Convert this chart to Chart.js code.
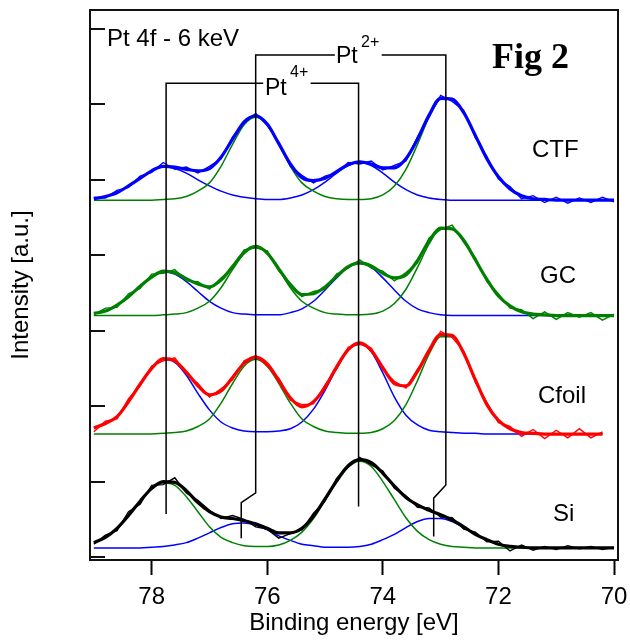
<!DOCTYPE html>
<html>
<head>
<meta charset="utf-8">
<script src="https://cdn.jsdelivr.net/npm/chart.js@4.4.1/dist/chart.umd.min.js"></script>
<style>
  html, body { margin: 0; padding: 0; background: #fff; }
  #chartXps { display: block; }
</style>
</head>
<body>
<canvas id="chartXps" width="630" height="643"></canvas>
<script>
// binding energy grid (eV)
const energies = [79.0, 78.8, 78.6, 78.4, 78.2, 78.0, 77.8, 77.6, 77.4, 77.2,
  77.0, 76.8, 76.6, 76.4, 76.2, 76.0, 75.8, 75.6, 75.4, 75.2,
  75.0, 74.8, 74.6, 74.4, 74.2, 74.0, 73.8, 73.6, 73.4, 73.2,
  73.0, 72.8, 72.6, 72.4, 72.2, 72.0, 71.8, 71.6, 71.4, 71.2,
  71.0, 70.8, 70.6, 70.4, 70.2, 70.0];

// CTF
const ctfRaw = [4.77, 4.76, 4.86, 4.90, 5.05, 5.10, 5.23, 5.14, 5.17, 5.09,
  5.18, 5.28, 5.57, 5.75, 5.88, 5.72, 5.50, 5.18, 5.06, 4.96,
  5.05, 5.09, 5.23, 5.21, 5.25, 5.13, 5.19, 5.25, 5.57, 5.83,
  6.12, 6.04, 5.92, 5.56, 5.31, 5.01, 4.91, 4.75, 4.79, 4.70,
  4.77, 4.69, 4.76, 4.70, 4.77, 4.71];
const ctfFit = [4.75, 4.78, 4.83, 4.92, 5.02, 5.12, 5.18, 5.17, 5.14, 5.12,
  5.15, 5.30, 5.54, 5.77, 5.85, 5.74, 5.48, 5.21, 5.03, 4.99,
  5.02, 5.11, 5.20, 5.24, 5.21, 5.16, 5.16, 5.28, 5.54, 5.86,
  6.08, 6.07, 5.89, 5.59, 5.28, 5.04, 4.88, 4.79, 4.75, 4.74,
  4.73, 4.73, 4.73, 4.73, 4.73, 4.73];
const ctfBlue = [4.75, 4.78, 4.83, 4.92, 5.02, 5.12, 5.17, 5.15, 5.09, 5.00,
  4.92, 4.85, 4.80, 4.77, 4.75, 4.74, 4.74, 4.76, 4.80, 4.87,
  4.97, 5.09, 5.19, 5.23, 5.19, 5.09, 4.97, 4.87, 4.80, 4.76,
  4.74, 4.73, 4.73, 4.73, 4.73, 4.73, 4.73, 4.73, 4.73, 4.73,
  4.73, 4.73, 4.73, 4.73, 4.73, 4.73];
const ctfGreen = [4.73, 4.73, 4.73, 4.73, 4.73, 4.73, 4.74, 4.75, 4.78, 4.85,
  4.96, 5.18, 5.47, 5.73, 5.83, 5.73, 5.47, 5.18, 4.96, 4.85,
  4.78, 4.75, 4.74, 4.74, 4.75, 4.80, 4.92, 5.14, 5.47, 5.83,
  6.07, 6.07, 5.89, 5.59, 5.28, 5.04, 4.88, 4.79, 4.75, 4.74,
  4.73, 4.73, 4.73, 4.73, 4.73, 4.73];

// GC
const gcRaw = [3.21, 3.30, 3.31, 3.49, 3.56, 3.75, 3.76, 3.81, 3.66, 3.65,
  3.55, 3.70, 3.83, 4.07, 4.10, 4.06, 3.79, 3.63, 3.45, 3.52,
  3.55, 3.75, 3.83, 3.94, 3.83, 3.79, 3.66, 3.77, 3.90, 4.23,
  4.34, 4.40, 4.17, 3.97, 3.65, 3.49, 3.30, 3.28, 3.16, 3.25,
  3.15, 3.24, 3.18, 3.24, 3.14, 3.22];
const gcFit = [3.23, 3.26, 3.34, 3.45, 3.59, 3.71, 3.79, 3.77, 3.69, 3.62,
  3.58, 3.67, 3.85, 4.04, 4.12, 4.03, 3.82, 3.61, 3.48, 3.49,
  3.58, 3.72, 3.85, 3.90, 3.86, 3.76, 3.70, 3.74, 3.93, 4.19,
  4.36, 4.35, 4.20, 3.94, 3.68, 3.46, 3.33, 3.25, 3.22, 3.21,
  3.20, 3.20, 3.20, 3.20, 3.20, 3.20];
const gcBlue = [3.23, 3.26, 3.34, 3.45, 3.59, 3.71, 3.78, 3.75, 3.65, 3.52,
  3.39, 3.30, 3.24, 3.22, 3.21, 3.21, 3.21, 3.24, 3.29, 3.39,
  3.54, 3.70, 3.84, 3.89, 3.84, 3.70, 3.54, 3.39, 3.29, 3.24,
  3.21, 3.20, 3.20, 3.20, 3.20, 3.20, 3.20, 3.20, 3.20, 3.20,
  3.20, 3.20, 3.20, 3.20, 3.20, 3.20];
const gcGreen = [3.20, 3.20, 3.20, 3.20, 3.20, 3.20, 3.21, 3.22, 3.24, 3.30,
  3.39, 3.57, 3.81, 4.02, 4.11, 4.02, 3.81, 3.57, 3.39, 3.30,
  3.24, 3.22, 3.21, 3.21, 3.22, 3.26, 3.36, 3.55, 3.84, 4.15,
  4.35, 4.35, 4.20, 3.94, 3.68, 3.46, 3.33, 3.25, 3.22, 3.21,
  3.20, 3.20, 3.20, 3.20, 3.20, 3.20];

// Cfoil
const cfRaw = [1.66, 1.80, 1.83, 2.10, 2.27, 2.53, 2.60, 2.64, 2.43, 2.30,
  2.12, 2.23, 2.35, 2.60, 2.67, 2.53, 2.37, 2.08, 2.02, 2.03,
  2.28, 2.49, 2.78, 2.82, 2.77, 2.48, 2.33, 2.24, 2.49, 2.71,
  2.99, 2.91, 2.73, 2.32, 2.05, 1.78, 1.73, 1.60, 1.69, 1.57,
  1.68, 1.58, 1.70, 1.58, 1.66, null];
const cfFit = [1.71, 1.77, 1.86, 2.06, 2.29, 2.50, 2.63, 2.60, 2.45, 2.27,
  2.15, 2.20, 2.38, 2.57, 2.65, 2.56, 2.34, 2.11, 1.99, 2.06,
  2.25, 2.52, 2.75, 2.84, 2.74, 2.51, 2.30, 2.27, 2.46, 2.74,
  2.95, 2.94, 2.70, 2.35, 2.02, 1.81, 1.70, 1.65, 1.64, 1.63,
  1.63, 1.63, 1.63, 1.63, 1.63, null];
const cfBlue = [1.71, 1.77, 1.86, 2.06, 2.29, 2.50, 2.62, 2.58, 2.41, 2.17,
  1.95, 1.79, 1.71, 1.67, 1.66, 1.66, 1.67, 1.70, 1.79, 1.96,
  2.21, 2.50, 2.74, 2.83, 2.72, 2.44, 2.12, 1.88, 1.75, 1.68,
  1.66, 1.65, 1.64, 1.64, 1.63, 1.63, 1.63, 1.63, 1.63, 1.63,
  1.63, 1.63, 1.63, 1.63, 1.63, null];
const cfGreen = [1.63, 1.63, 1.63, 1.63, 1.63, 1.63, 1.64, 1.65, 1.67, 1.73,
  1.83, 2.04, 2.30, 2.53, 2.62, 2.53, 2.30, 2.04, 1.83, 1.73,
  1.67, 1.65, 1.64, 1.64, 1.65, 1.70, 1.81, 2.02, 2.34, 2.69,
  2.92, 2.92, 2.69, 2.34, 2.02, 1.81, 1.70, 1.65, 1.64, 1.63,
  1.63, 1.63, 1.63, 1.63, 1.63, null];

// Si
const siRaw = [0.17, 0.29, 0.35, 0.60, 0.70, 0.95, 0.96, 1.05, 0.85, 0.75,
  0.62, 0.51, 0.55, 0.50, 0.40, 0.37, 0.25, 0.31, 0.36, 0.58,
  0.74, 1.04, 1.19, 1.32, 1.22, 1.14, 0.91, 0.81, 0.66, 0.65,
  0.53, 0.52, 0.37, 0.33, 0.20, 0.21, 0.08, 0.16, 0.09, 0.14,
  0.10, 0.15, 0.11, 0.14, 0.10, 0.13];
const siFit = [0.19, 0.26, 0.38, 0.55, 0.74, 0.91, 1.00, 0.99, 0.88, 0.72,
  0.60, 0.53, 0.51, 0.48, 0.44, 0.38, 0.32, 0.32, 0.38, 0.54,
  0.77, 1.01, 1.21, 1.29, 1.25, 1.11, 0.94, 0.79, 0.69, 0.62,
  0.56, 0.49, 0.40, 0.30, 0.23, 0.17, 0.14, 0.13, 0.12, 0.12,
  0.12, 0.12, 0.12, 0.12, 0.12, 0.12];
const siGreen = [0.19, 0.26, 0.38, 0.55, 0.74, 0.90, 0.98, 0.95, 0.80, 0.60,
  0.40, 0.26, 0.19, 0.15, 0.14, 0.14, 0.16, 0.22, 0.33, 0.51,
  0.75, 0.99, 1.19, 1.27, 1.20, 1.00, 0.76, 0.52, 0.34, 0.23,
  0.17, 0.14, 0.13, 0.12, 0.12, 0.12, 0.12, 0.12, 0.12, 0.12,
  0.12, 0.12, 0.12, 0.12, 0.12, 0.12];
const siBlue = [0.12, 0.12, 0.12, 0.12, 0.12, 0.13, 0.14, 0.16, 0.19, 0.25,
  0.32, 0.39, 0.44, 0.45, 0.42, 0.36, 0.28, 0.22, 0.17, 0.15,
  0.13, 0.13, 0.13, 0.14, 0.17, 0.23, 0.30, 0.39, 0.47, 0.51,
  0.51, 0.47, 0.39, 0.30, 0.23, 0.17, 0.14, 0.13, 0.12, 0.12,
  0.12, 0.12, 0.12, 0.12, 0.12, 0.12];

// peak marker brackets (energy, intensity)
const pt4LeftX = [77.75, 77.75, 76.07];
const pt4LeftY = [0.57, 6.28, 6.28];
const pt4RightX = [75.25, 74.42, 74.42];
const pt4RightY = [6.28, 6.28, 0.67];
const pt2LeftX = [76.45, 76.45, 76.2, 76.2, 74.83];
const pt2LeftY = [0.25, 0.72, 0.85, 6.655, 6.655];
const pt2RightX = [74.02, 72.91, 72.91, 73.12, 73.12];
const pt2RightY = [6.655, 6.655, 0.955, 0.78, 0.27];

const BLUE = "rgb(0, 0, 255)";
const GREEN = "rgb(0, 128, 0)";
const RED = "rgb(255, 0, 0)";
const BLACK = "rgb(0, 0, 0)";

function toPoints(xs, ys) {
  return xs.map((x, i) => ({ x: x, y: ys[i] })).filter(p => p.y !== null && p.y !== undefined);
}

function curve(values, color, width, order, smooth) {
  return {
    data: toPoints(energies, values),
    borderColor: color,
    borderWidth: width,
    pointRadius: 0,
    fill: false,
    order: order,
    tension: 0,
    cubicInterpolationMode: smooth ? "monotone" : "default",
  };
}

function bracket(xs, ys) {
  return {
    data: toPoints(xs, ys),
    borderColor: BLACK,
    borderWidth: 1.5,
    pointRadius: 0,
    fill: false,
    order: 1,
    tension: 0,
  };
}

const spectra = [
  { raw: ctfRaw, fit: ctfFit, blue: ctfBlue, green: ctfGreen, color: BLUE },
  { raw: gcRaw, fit: gcFit, blue: gcBlue, green: gcGreen, color: GREEN },
  { raw: cfRaw, fit: cfFit, blue: cfBlue, green: cfGreen, color: RED },
  { raw: siRaw, fit: siFit, blue: siBlue, green: siGreen, color: BLACK },
];

const datasets = [];
spectra.forEach(s => {
  datasets.push(curve(s.green, GREEN, 1.5, 5, true));
  datasets.push(curve(s.blue, BLUE, 1.5, 5, true));
  datasets.push(curve(s.raw, s.color, 1.4, 3, false));
  datasets.push(curve(s.fit, s.color, 3.2, 2, true));
});
datasets.push(bracket(pt4LeftX, pt4LeftY));
datasets.push(bracket(pt4RightX, pt4RightY));
datasets.push(bracket(pt2LeftX, pt2LeftY));
datasets.push(bracket(pt2RightX, pt2RightY));

// frame, inward y ticks and text labels
const decorations = {
  id: "decorations",
  afterDraw(chart) {
    const ctx = chart.ctx;
    const a = chart.chartArea;
    const y = chart.scales.y;
    ctx.save();
    ctx.strokeStyle = "#111";
    ctx.lineWidth = 2;
    ctx.strokeRect(a.left, a.top, a.right - a.left, a.bottom - a.top);
    y.ticks.forEach(t => {
      const py = Math.round(y.getPixelForValue(t.value));
      ctx.beginPath();
      ctx.moveTo(a.left, py);
      ctx.lineTo(a.left + 15, py);
      ctx.stroke();
    });

    ctx.fillStyle = "#000";
    ctx.textBaseline = "alphabetic";
    ctx.textAlign = "left";
    ctx.font = '24px "Liberation Sans", Arial, sans-serif';
    ctx.fillText("Pt 4f - 6 keV", 107, 46);
    ctx.fillText("CTF", 532, 157);
    ctx.fillText("GC", 540, 283);
    ctx.fillText("Cfoil", 538, 403);
    ctx.fillText("Si", 553, 521);

    ctx.font = '23px "Liberation Sans", Arial, sans-serif';
    ctx.fillText("Pt", 265, 95);
    ctx.fillText("Pt", 336, 63);
    ctx.font = '16px "Liberation Sans", Arial, sans-serif';
    ctx.fillText("4+", 290, 77);
    ctx.fillText("2+", 361, 47);

    ctx.font = 'bold 36px "Liberation Serif", "Times New Roman", serif';
    ctx.fillText("Fig 2", 492, 68);
    ctx.restore();
  },
};

Chart.defaults.font.family = '"Liberation Sans", Arial, sans-serif';
Chart.defaults.color = "#000";

const chartXps = new Chart("chartXps", {
  type: "line",
  data: { datasets: datasets },
  options: {
    responsive: false,
    animation: false,
    events: [],
    layout: { padding: { top: 10, right: 0, bottom: 0, left: 0 } },
    plugins: {
      legend: { display: false },
      tooltip: { enabled: false },
    },
    scales: {
      x: {
        type: "linear",
        reverse: true,
        min: 69.931,
        max: 79.067,
        ticks: {
          stepSize: 2,
          includeBounds: false,
          maxRotation: 0,
          padding: 8,
          color: "#000",
          font: { size: 24 },
        },
        grid: {
          drawOnChartArea: false,
          drawTicks: true,
          tickLength: 15,
          tickWidth: 2,
          tickColor: "#000",
        },
        border: { display: false },
        title: {
          display: true,
          text: "Binding energy [eV]",
          color: "#000",
          font: { size: 24 },
          padding: { top: 0, bottom: 5 },
        },
        afterFit: s => {
          s.height = 83;
          s.paddingLeft = 0;
          s.paddingRight = 12;
        },
      },
      y: {
        min: -0.04,
        max: 7.252,
        ticks: { display: false, stepSize: 1, includeBounds: false },
        grid: { display: false },
        border: { display: false },
        title: {
          display: true,
          text: "Intensity [a.u.]",
          color: "#000",
          font: { size: 24 },
          padding: { top: 7, bottom: 0 },
        },
        afterFit: s => {
          s.width = 90;
          s.paddingTop = 0;
          s.paddingBottom = 0;
        },
      },
    },
  },
  plugins: [decorations],
});
</script>
</body>
</html>
